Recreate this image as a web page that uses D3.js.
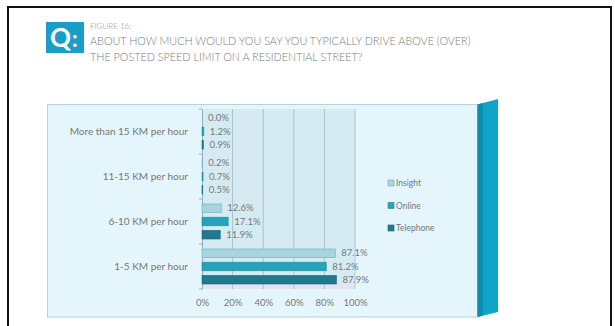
<!DOCTYPE html>
<html><head><meta charset="utf-8">
<script src="https://cdn.jsdelivr.net/npm/d3@7"></script>
<style>body{margin:0;background:#fff;} svg{display:block;font-family:Lato,"Open Sans",sans-serif;}</style>
</head><body><svg id="c" width="615" height="326"></svg>
<script>
const categories = ["More than 15 KM per hour","11-15 KM per hour","6-10 KM per hour","1-5 KM per hour"];
const series = ["Insight","Online","Telephone"];
const insight = [0.0, 0.2, 12.6, 87.1];
const online = [1.2, 0.7, 17.1, 81.2];
const telephone = [0.9, 0.5, 11.9, 87.9];
const xTicks = [0,20,40,60,80,100];
const figureLabel = "FIGURE 16:";
const titleLines = ["ABOUT HOW MUCH WOULD YOU SAY YOU TYPICALLY DRIVE ABOVE (OVER)","THE POSTED SPEED LIMIT ON A RESIDENTIAL STREET?"];

const seriesValues = {Insight: insight, Online: online, Telephone: telephone};
const fills = {Insight:"#a8d3e1", Online:"#27a2b8", Telephone:"#20798d"};
const strokes = {Insight:"#6aaec4", Online:"#1f8ea3", Telephone:"#1a6a7c"};

const svg = d3.select("#c");

// outer frame
svg.append("rect").attr("x",8).attr("y",7).attr("width",603).attr("height",330)
  .attr("fill","none").attr("stroke","#111").attr("stroke-width",2);

// Q icon
svg.append("rect").attr("x",46).attr("y",22).attr("width",38).attr("height",31).attr("fill","#1b9ec6");
svg.append("text").attr("x",50).attr("y",46.5).attr("fill","#fff").attr("font-size",26).attr("font-weight",700).text("Q");
svg.append("text").attr("x",72).attr("y",46.5).attr("fill","#fff").attr("font-size",22).attr("font-weight",700).text(":");

svg.append("text").attr("x",90).attr("y",29).attr("fill","#8a8a8a").attr("font-size",8).attr("font-weight",300).text(figureLabel);
svg.selectAll("text.title").data(titleLines).join("text").attr("class","title")
  .attr("x",90).attr("y",(d,i)=>45+i*16).attr("fill","#7a7a7a").attr("font-size",10.8).attr("font-weight",300).text(d=>d);

// chart box
svg.append("rect").attr("x",47.5).attr("y",104.5).attr("width",430).attr("height",212.5)
  .attr("fill","#e4f6fb").attr("stroke","#b1d3de");
// side panel
svg.append("polygon").attr("points","477.5,104.5 498,99 498,312 477.5,317").attr("fill","#0ea6c8");
svg.append("polygon").attr("points","477.5,104.5 483,103 483,315.5 477.5,317").attr("fill","#0a8fb2");

const x = d3.scaleLinear().domain([0,100]).range([202,355]);
const y = d3.scaleBand().domain(categories).range([109,289]);
const yIn = d3.scaleBand().domain(series).range([-17.5,17.5]).paddingInner(0.35);

// plot background
svg.append("rect").attr("x",x(0)).attr("y",y.range()[0]).attr("width",x(100)-x(0)).attr("height",y.range()[1]-y.range()[0]).attr("fill","#d6eaf1");
svg.append("rect").attr("x",x(0)).attr("y",y.range()[1]-6).attr("width",x(100)-x(0)).attr("height",6).attr("fill","#e7e2f1");

// gridlines
svg.selectAll("line.grid").data(xTicks.slice(1)).join("line").attr("class","grid")
  .attr("x1",d=>x(d)).attr("x2",d=>x(d)).attr("y1",y.range()[0]).attr("y2",y.range()[1])
  .attr("stroke","#a9c4ce").attr("stroke-width",1);

// x axis labels
const xAxis = d3.axisBottom(x).tickValues(xTicks).tickFormat(d=>d+"%").tickSize(0).tickPadding(10);
const gx = svg.append("g").attr("transform",`translate(0,${y.range()[1]})`).call(xAxis);
gx.select(".domain").remove();
gx.selectAll("text").attr("fill","#777").attr("font-size",9.5).attr("font-family","Lato,sans-serif");

// y axis
const yAxis = d3.axisLeft(y).tickSize(0).tickPadding(14);
const gy = svg.append("g").attr("transform",`translate(${x(0)},0)`).call(yAxis);
gy.select(".domain").attr("stroke","#8fb0bb");
gy.selectAll("text").attr("fill","#777").attr("font-size",10).attr("font-family","Lato,sans-serif");
// band boundary ticks
const bounds = categories.map(c=>y(c)+y.bandwidth()).concat([y(categories[0])]);
svg.selectAll("line.ytick").data(bounds).join("line").attr("class","ytick")
  .attr("x1",x(0)-3).attr("x2",x(0)).attr("y1",d=>d).attr("y2",d=>d).attr("stroke","#8fb0bb");

// bars
const flat = [];
categories.forEach((c,ci)=>series.forEach(s=>flat.push({c, s, v: seriesValues[s][ci]})));
const bh = yIn.bandwidth();
svg.selectAll("rect.bar").data(flat).join("rect").attr("class","bar")
  .attr("x",x(0)).attr("y",d=>y(d.c)+y.bandwidth()/2+yIn(d.s))
  .attr("width",d=>x(d.v)-x(0)).attr("height",bh)
  .attr("fill",d=>fills[d.s]).attr("stroke",d=>strokes[d.s]).attr("stroke-width",0.6);
svg.selectAll("text.val").data(flat).join("text").attr("class","val")
  .attr("x",d=>x(d.v)+6).attr("y",d=>y(d.c)+y.bandwidth()/2+yIn(d.s)+bh/2+3.2)
  .attr("fill","#6f7a80").attr("font-size",9.5).text(d=>d.v.toFixed(1)+"%");

// legend
const lg = svg.selectAll("g.lg").data(series).join("g").attr("class","lg")
  .attr("transform",(d,i)=>`translate(388,${183+i*22.5})`);
lg.append("rect").attr("x",0).attr("y",-3).attr("width",6).attr("height",6).attr("fill",d=>fills[d]).attr("stroke",d=>strokes[d]).attr("stroke-width",0.6);
lg.append("text").attr("x",8).attr("y",3).attr("fill","#777").attr("font-size",8.5).text(d=>d);
</script></body></html>
